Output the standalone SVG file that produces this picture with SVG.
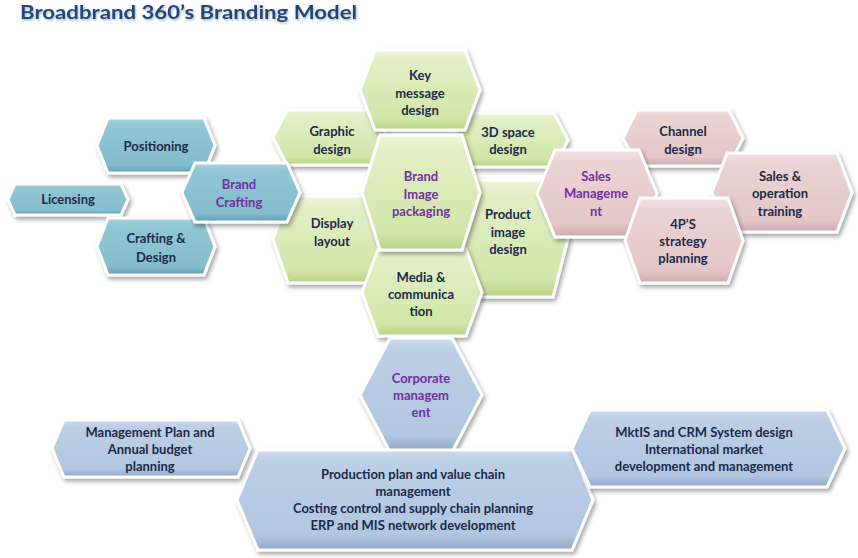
<svg xmlns="http://www.w3.org/2000/svg" width="858" height="558" viewBox="0 0 858 558">
<style>
.hex{stroke:#ffffff;stroke-width:3;stroke-linejoin:miter;filter:url(#sh)}
.b{fill:url(#gb)}
.g{fill:url(#gg)}
.k{fill:url(#gk)}
.s{fill:url(#gs)}
text{font-family:Lato,"Liberation Sans",sans-serif;font-weight:700;font-size:13px;fill:#1b2a4a;text-anchor:middle}
.p{fill:#7030a0}
.sm{font-size:13px}
.title{font-size:19px;fill:#1f497d;text-anchor:start;filter:url(#tsh)}
</style>
<defs>
<filter id="sh" x="-10%" y="-15%" width="125%" height="140%">
<feDropShadow dx="2" dy="3" stdDeviation="2" flood-color="#000" flood-opacity="0.35"/>
</filter>
<filter id="tsh" x="-5%" y="-30%" width="110%" height="170%">
<feDropShadow dx="1" dy="1.5" stdDeviation="1" flood-color="#000" flood-opacity="0.3"/>
</filter>
<linearGradient id="gb" x1="0" y1="0" x2="0" y2="1">
<stop offset="0" stop-color="#a9d6e1"/><stop offset="0.12" stop-color="#92c7d5"/><stop offset="0.85" stop-color="#84bdcd"/><stop offset="1" stop-color="#619db0"/>
</linearGradient>
<linearGradient id="gg" x1="0" y1="0" x2="0" y2="1">
<stop offset="0" stop-color="#eef6de"/><stop offset="0.12" stop-color="#e2efc6"/><stop offset="0.85" stop-color="#d2e7a9"/><stop offset="1" stop-color="#b7d386"/>
</linearGradient>
<linearGradient id="gk" x1="0" y1="0" x2="0" y2="1">
<stop offset="0" stop-color="#f4e2e2"/><stop offset="0.12" stop-color="#ecd4d4"/><stop offset="0.85" stop-color="#e4c6c7"/><stop offset="1" stop-color="#ceaaab"/>
</linearGradient>
<linearGradient id="gs" x1="0" y1="0" x2="0" y2="1">
<stop offset="0" stop-color="#cddbed"/><stop offset="0.12" stop-color="#bccfe6"/><stop offset="0.85" stop-color="#b1c6e0"/><stop offset="1" stop-color="#8ea8cb"/>
</linearGradient>
</defs>
<rect width="858" height="558" fill="#ffffff"/>
<text class="title" x="20" y="19" textLength="337" lengthAdjust="spacingAndGlyphs">Broadbrand 360’s Branding Model</text>
<g id="connectors"></g>

<g id="graphic-design"><polygon class="hex g" points="273,137.5 287,110 374,110 388,137.5 374,165 287,165"/>
<text x="332" y="136">Graphic</text><text x="332" y="154">design</text></g>
<g id="space-design"><polygon class="hex g" points="453,140 467,113 554,113 568,140 554,167 467,167"/>
<text x="508" y="137">3D space</text><text x="508" y="154">design</text></g>
<g id="display-layout"><polygon class="hex g" points="273,239.5 288,196 373,196 388,239.5 373,283 288,283"/>
<text x="332" y="228">Display</text><text x="332" y="246">layout</text></g>
<g id="product-image-design"><polygon class="hex g" points="458,238.5 473,180 553,180 568,238.5 553,297 473,297"/>
<text x="508" y="219">Product</text><text x="508" y="237">image</text><text x="508" y="254">design</text></g>
<g id="key-message-design"><polygon class="hex g" points="360,90 375,50 465,50 480,90 465,130 375,130"/>
<text x="420" y="80">Key</text><text x="420" y="98">message</text><text x="420" y="115">design</text></g>
<g id="media-communication"><polygon class="hex g" points="362,292.5 378,249 466,249 482,292.5 466,336 378,336"/>
<text x="421" y="282">Media &amp;</text><text x="421" y="299">communica</text><text x="421" y="316">tion</text></g>
<g id="brand-image-packaging"><polygon class="hex g" points="362,192.5 380,135 462,135 480,192.5 462,250 380,250"/>
<text class="p" x="421" y="181">Brand</text><text class="p" x="421" y="199">Image</text><text class="p" x="421" y="216">packaging</text></g>

<g id="positioning"><polygon class="hex b" points="97,145.5 108,118 204,118 215,145.5 204,173 108,173"/>
<text x="156" y="151">Positioning</text></g>
<g id="licensing"><polygon class="hex b" points="8,199.5 15,184 121,184 128,199.5 121,215 15,215"/>
<text x="68" y="204">Licensing</text></g>
<g id="crafting-design"><polygon class="hex b" points="97,246.5 108,218 204,218 215,246.5 204,275 108,275"/>
<text x="156" y="243">Crafting &amp;</text><text x="156" y="262">Design</text></g>
<g id="brand-crafting"><polygon class="hex b" points="182,192.5 195,163 287,163 300,192.5 287,222 195,222"/>
<text class="p" x="239" y="189">Brand</text><text class="p" x="239" y="207">Crafting</text></g>

<g id="channel-design"><polygon class="hex k" points="623,138 637,110 729,110 743,138 729,166 637,166"/>
<text x="683" y="136">Channel</text><text x="683" y="154">design</text></g>
<g id="sales-operation-training"><polygon class="hex k" points="712,192.5 727,153 837,153 852,192.5 837,232 727,232"/>
<text x="780" y="181">Sales &amp;</text><text x="780" y="198">operation</text><text x="780" y="216">training</text></g>
<g id="sales-management"><polygon class="hex k" points="537,193.5 555,150 639,150 657,193.5 639,237 555,237"/>
<text class="p" x="596" y="181">Sales</text><text class="p" x="596" y="198">Manageme</text><text class="p" x="596" y="216">nt</text></g>
<g id="strategy-planning"><polygon class="hex k" points="625,240.5 640,198 728,198 743,240.5 728,283 640,283"/>
<text x="683" y="229">4P’S</text><text x="683" y="246">strategy</text><text x="683" y="263">planning</text></g>

<g id="corporate-management"><polygon class="hex s" points="360,395 390,338 452,338 482,395 452,452 390,452"/>
<text class="p" x="421" y="383">Corporate</text><text class="p" x="421" y="400">managem</text><text class="p" x="421" y="417">ent</text></g>
<g id="management-plan"><polygon class="hex s" points="52,448.5 64,420 238,420 250,448.5 238,477 64,477"/>
<text class="sm" x="150" y="437">Management Plan and</text><text class="sm" x="150" y="454">Annual budget</text><text class="sm" x="150" y="471">planning</text></g>
<g id="production-plan"><polygon class="hex s" points="237,500 258,450 572,450 593,500 572,550 258,550"/>
<text class="sm" x="413" y="479">Production plan and value chain</text><text class="sm" x="413" y="496">management</text><text class="sm" x="413" y="513">Costing control and supply  chain planning</text><text class="sm" x="413" y="530">ERP and MIS network development</text></g>
<g id="mktis-crm"><polygon class="hex s" points="572,448.5 590,410 827,410 845,448.5 827,487 590,487"/>
<text class="sm" x="704" y="437">MktIS and CRM System design</text><text class="sm" x="704" y="454">International market</text><text class="sm" x="704" y="471">development and management</text></g>
</svg>
